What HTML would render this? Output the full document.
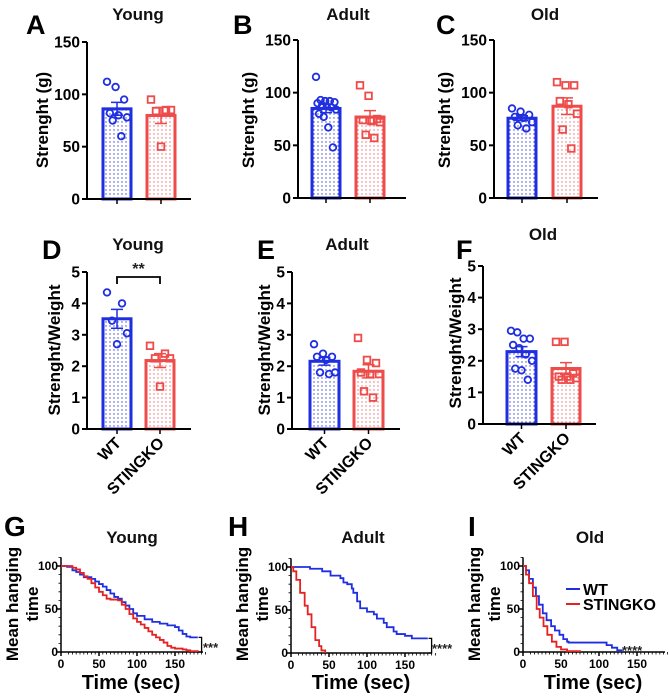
<!DOCTYPE html>
<html><head><meta charset="utf-8"><style>
html,body{margin:0;padding:0;background:#fff;}
svg{display:block;font-family:"Liberation Sans",Arial,sans-serif;font-weight:bold;}
</style></head><body>
<svg id="fig" width="669" height="696" viewBox="0 0 669 696" xmlns="http://www.w3.org/2000/svg">
<defs>
<pattern id="dotB" width="4" height="4" patternUnits="userSpaceOnUse"><rect width="4" height="4" fill="#fff"/><circle cx="2" cy="2" r="0.7" fill="#3a46d8"/></pattern>
<pattern id="dotR" width="4" height="4" patternUnits="userSpaceOnUse"><rect width="4" height="4" fill="#fff"/><circle cx="2" cy="2" r="0.7" fill="#ee6a6a"/></pattern>
</defs>
</svg>
<script>
// ---- bar panel data ----
const groups = ["WT", "STINGKO"];
const aWT = [112,107,95,82,80,78,75,60];
const aKO = [95,85,84,85,50];
const bWT = [115,93,92,92,91,90,88,87,86,84,80,77,67,48];
const bKO = [107,97,75,74,73,72,60,57];
const cWT = [85,82,79,77,76,72,69,66];
const cKO = [110,107,107,92,89,80,65,47];
const dWT = [4.35,4.0,3.45,3.05,2.7];
const dKO = [2.65,2.4,2.25,2.25,1.35];
const eWT = [2.7,2.4,2.3,2.3,2.2,1.8,1.8,1.75];
const eKO = [2.9,2.2,2.1,1.8,1.75,1.75,1.2,1.0];
const fWT = [2.95,2.9,2.7,2.7,2.5,2.4,2.2,2.0,1.75,1.7,1.4];
const fKO = [2.6,2.6,1.6,1.5,1.5,1.45,1.4,1.4];
const strengthTicks = [0,50,100,150];
const ratioTicks = [0,1,2,3,4,5];
// ---- survival data: [time, percent] steps ----
const gWT = [[0,100],[8,99],[15,95],[20,93],[25,90],[30,87],[40,85],[45,82],[50,79],[55,76],[60,72],[65,68],[70,64],[75,62],[80,58],[85,54],[90,50],[95,45],[100,42],[110,38],[120,35],[130,33],[140,31],[150,29],[155,25],[160,21],[165,18],[170,17],[180,17]];
const gKO = [[0,100],[10,100],[15,98],[20,96],[25,92],[30,88],[35,85],[40,80],[45,75],[50,70],[55,66],[60,62],[65,61],[75,60],[80,55],[85,50],[90,44],[95,39],[100,35],[105,32],[110,28],[115,24],[120,20],[125,17],[130,14],[135,11],[140,7],[145,5],[150,4],[160,3],[165,2],[170,1],[180,0]];
const hWT = [[0,100],[25,98],[41,95],[52,90],[65,87],[69,82],[74,80],[80,75],[82,70],[87,60],[91,52],[100,48],[109,45],[113,40],[122,35],[126,30],[135,25],[139,22],[150,20],[159,17],[180,17]];
const hKO = [[0,100],[3,95],[7,85],[12,70],[18,55],[22,45],[27,30],[32,15],[37,8],[40,3],[45,0]];
const iWT = [[0,100],[4,95],[8,85],[13,75],[17,65],[21,55],[26,45],[31,37],[37,30],[42,25],[48,20],[53,15],[58,12],[60,11],[105,11],[110,8],[117,5],[124,2],[130,0]];
const iKO = [[0,100],[4,90],[8,80],[13,65],[18,50],[22,40],[27,30],[32,20],[38,12],[44,6],[50,3],[58,1],[75,0]];
const timeTicks = [0,50,100,150];
const survTicks = [0,50,100];

const NS = "http://www.w3.org/2000/svg";
const svg = document.getElementById("fig");
function mk(tag, attrs, parent) {
  const e = document.createElementNS(NS, tag);
  for (const k in attrs) e.setAttribute(k, attrs[k]);
  (parent || svg).appendChild(e);
  return e;
}
function txt(s, attrs, parent) { const e = mk("text", attrs, parent); e.textContent = s; return e; }
function mean(a){return a.reduce((s,v)=>s+v,0)/a.length;}
function sem(a){const m=mean(a);const sd=Math.sqrt(a.reduce((s,v)=>s+(v-m)*(v-m),0)/(a.length-1));return sd/Math.sqrt(a.length);}

function barPanel(cfg) {
  const g = mk("g", {});
  
  
  const maxV = cfg.ticks[cfg.ticks.length-1];
  const yS = v => cfg.y0 - (cfg.y0 - cfg.yTop) * v / maxV;
  const L = txt(cfg.letter, {x: cfg.lx, y: cfg.ly, "font-size": 27, fill: "#000"}, g);
  
  
  const T = txt(cfg.title, {x: cfg.tx, y: cfg.ty, "font-size": 17, "text-anchor": "middle", fill: "#111"}, g);
  
  
  const series = [cfg.wt, cfg.ko];
  series.forEach((d, i) => {
    const col = i === 0 ? "#1f2fe0" : "#ee4b4b";
    const [x1, x2] = cfg.bars[i];
    const cx = (x1 + x2) / 2;
    const m = mean(d), s = sem(d);
    const b = mk("rect", {x: x1, y: yS(m), width: x2 - x1, height: cfg.y0 - yS(m), fill: i === 0 ? "url(#dotB)" : "url(#dotR)", stroke: col, "stroke-width": 3}, g);
    
    
    const eb = mk("path", {d: `M${cx},${yS(m-s)}V${yS(m+s)}M${cx-6},${yS(m+s)}H${cx+6}M${cx-6},${yS(m-s)}H${cx+6}`, stroke: col, "stroke-width": 1.5, fill: "none"}, g);
    
    
    const w = x2 - x1 - 8;
    d.forEach((v, j) => {
      const off = d.length > 1 ? ((j * 3) % d.length) / (d.length - 1) - 0.5 : 0;
      const px = cx + off * w;
      let p;
      if (i === 0) p = mk("circle", {cx: px, cy: yS(v), r: 3.3, fill: "none", stroke: col, "stroke-width": 1.8}, g);
      else p = mk("rect", {x: px - 3.3, y: yS(v) - 3.3, width: 6.6, height: 6.6, fill: "none", stroke: col, "stroke-width": 1.8}, g);
      
      
    });
    const tk = mk("line", {x1: cx, x2: cx, y1: cfg.y0, y2: cfg.y0 + 5, stroke: "#000", "stroke-width": 1.5}, g);
    
    
    if (cfg.xlabels) {
      const xl = txt(groups[i], {x: 0, y: 0, "font-size": 16, "text-anchor": "end", fill: "#000", transform: `translate(${cx+5},${cfg.y0+15}) rotate(-45)`}, g);
      
      
    }
  });
  const ax = mk("path", {d: `M${cfg.ax},${cfg.yTop}V${cfg.y0}H${cfg.xEnd}`, stroke: "#000", "stroke-width": 2, fill: "none"}, g);
  
  
  cfg.ticks.forEach(t => {
    const tl = mk("line", {x1: cfg.ax - 5, x2: cfg.ax, y1: yS(t), y2: yS(t), stroke: "#000", "stroke-width": 2}, g);
    
    
    const lb = txt(String(t), {x: cfg.ax - 7, y: yS(t) + 5.5, "font-size": 15.5, "text-anchor": "end", fill: "#000"}, g);
    
    
  });
  const yt = txt(cfg.ylabel, {x: 0, y: 0, "font-size": 17, "text-anchor": "middle", fill: "#000", transform: `translate(${cfg.ylx},${cfg.yly}) rotate(-90)`}, g);
  
  
  if (cfg.sig) {
    const [a, b] = cfg.bars;
    const c1 = (a[0]+a[1])/2, c2 = (b[0]+b[1])/2;
    const br = mk("path", {d: `M${c1},284V277H${c2}V284`, stroke: "#000", "stroke-width": 1.8, fill: "none"}, g);
    
    
    const st = txt("**", {x: (c1+c2)/2, y: 274, "font-size": 16, "text-anchor": "middle", fill: "#222"}, g);
    
    
  }
}

const SY = "Strenght (g)", RY = "Strenght/Weight";
barPanel({name:"panel-a", letter:"A", lx:26, ly:34, title:"Young", tx:138, ty:20, ax:87, y0:199, yTop:42, xEnd:191, bars:[[103,131],[147,175]], wt:aWT, ko:aKO, ticks:strengthTicks, ylabel:SY, ylx:48, yly:120});
barPanel({name:"panel-b", letter:"B", lx:233, ly:34, title:"Adult", tx:348, ty:20, ax:298, y0:198, yTop:40, xEnd:406, bars:[[312,340],[356,384]], wt:bWT, ko:bKO, ticks:strengthTicks, ylabel:SY, ylx:254, yly:120});
barPanel({name:"panel-c", letter:"C", lx:436, ly:34, title:"Old", tx:545, ty:20, ax:494, y0:198, yTop:40, xEnd:598, bars:[[508,536],[553,581]], wt:cWT, ko:cKO, ticks:strengthTicks, ylabel:SY, ylx:450, yly:120});
barPanel({name:"panel-d", letter:"D", lx:42, ly:259, title:"Young", tx:138, ty:250, ax:87, y0:429, yTop:272, xEnd:191, bars:[[103,131],[146,174]], wt:dWT, ko:dKO, ticks:ratioTicks, ylabel:RY, ylx:60, yly:350, xlabels:true, sig:true});
barPanel({name:"panel-e", letter:"E", lx:257, ly:259, title:"Adult", tx:347, ty:250, ax:292, y0:429, yTop:272, xEnd:400, bars:[[310,339],[354,383]], wt:eWT, ko:eKO, ticks:ratioTicks, ylabel:RY, ylx:270, yly:350, xlabels:true});
barPanel({name:"panel-f", letter:"F", lx:456, ly:259, title:"Old", tx:543, ty:240, ax:483, y0:424, yTop:266, xEnd:596, bars:[[507,536],[552,580]], wt:fWT, ko:fKO, ticks:ratioTicks, ylabel:RY, ylx:461, yly:343, xlabels:true});

function survPanel(cfg) {
  const g = mk("g", {});
  
  
  const xS = t => cfg.ax + t * cfg.pxs;
  const yS = p => cfg.y0 - (cfg.y0 - cfg.y100) * p / 100;
  const L = txt(cfg.letter, {x: cfg.lx, y: 536, "font-size": 28, fill: "#000"}, g);
  
  
  const T = txt(cfg.title, {x: cfg.tx, y: 543, "font-size": 17, "text-anchor": "middle", fill: "#111"}, g);
  
  
  const ax = mk("path", {d: `M${cfg.ax},${yS(110)}V${cfg.y0}H${cfg.xEnd}`, stroke: "#000", "stroke-width": 1.5, fill: "none"}, g);
  
  
  let minor = "";
  for (let t = 10; t <= 190; t += 5) minor += `M${xS(t)},${cfg.y0}v2.5`;
  for (let p = 10; p <= 110; p += 10) minor += `M${cfg.ax},${yS(p)}h-2.5`;
  const mt = mk("path", {d: minor, stroke: "#000", "stroke-width": 0.8, fill: "none"}, g);
  
  
  timeTicks.forEach(t => {
    const tl = mk("line", {x1: xS(t), x2: xS(t), y1: cfg.y0, y2: cfg.y0 + 4, stroke: "#000", "stroke-width": 1.5}, g);
    
    
    const lb = txt(String(t), {x: xS(t), y: cfg.y0 + 16, "font-size": 12, "text-anchor": "middle", fill: "#000"}, g);
    
    
  });
  survTicks.forEach(p => {
    const tl = mk("line", {x1: cfg.ax - 4, x2: cfg.ax, y1: yS(p), y2: yS(p), stroke: "#000", "stroke-width": 1.5}, g);
    
    
    const lb = txt(String(p), {x: cfg.ax - 3, y: yS(p) + 4, "font-size": 12, "text-anchor": "end", fill: "#000"}, g);
    
    
  });
  [[cfg.wt, "#1f2fe0", "curve-wt"], [cfg.ko, "#e52222", "curve-stingko"]].forEach(([d, col, nm]) => {
    let s = `M${xS(d[0][0])},${yS(d[0][1])}`;
    for (let k = 1; k < d.length; k++) s += `H${xS(d[k][0])}V${yS(d[k][1])}`;
    const p = mk("path", {d: s, stroke: col, "stroke-width": 1.8, fill: "none"}, g);
    
    
  });
  const xt = txt("Time (sec)", {x: cfg.ax + 70, y: 689, "font-size": 20, "text-anchor": "middle", fill: "#000"}, g);
  
  
  const y1 = txt("Mean hanging", {x: 0, y: 0, "font-size": 17, "text-anchor": "middle", fill: "#000", transform: `translate(${cfg.ax-43},604) rotate(-90)`}, g);
  
  
  const y2 = txt("time", {x: 0, y: 0, "font-size": 17, "text-anchor": "middle", fill: "#000", transform: `translate(${cfg.ax-23},604) rotate(-90)`}, g);
  
  
  if (cfg.bracket) {
    const w = cfg.wt[cfg.wt.length-1][1], k = cfg.ko[cfg.ko.length-1][1];
    const bx = xS(185);
    const br = mk("path", {d: `M${bx-3},${yS(w)}H${bx}V${yS(k)}H${bx-3}`, stroke: "#000", "stroke-width": 1.3, fill: "none"}, g);
    
    
  }
  const st = txt(cfg.sig, {x: cfg.sx, y: cfg.sy, "font-size": 13, fill: "#222"}, g);
  
  
  return g;
}
survPanel({name:"panel-g", letter:"G", lx:4, title:"Young", tx:132, ax:61, y0:652, y100:566, pxs:0.76, xEnd:203, wt:gWT, ko:gKO, bracket:true, sig:"***", sx:203, sy:652});
survPanel({name:"panel-h", letter:"H", lx:228, title:"Adult", tx:363, ax:291, y0:653, y100:567, pxs:0.76, xEnd:431, wt:hWT, ko:hKO, bracket:true, sig:"****", sx:432, sy:653});
const gi = survPanel({name:"panel-i", letter:"I", lx:468, title:"Old", tx:590, ax:523, y0:652, y100:566, pxs:0.76, xEnd:665, wt:iWT, ko:iKO, bracket:false, sig:"****", sx:622, sy:655});
const lg = mk("g", {}, gi);


[["WT", "#1f2fe0", 589], ["STINGKO", "#e52222", 604]].forEach(([n, c, y]) => {
  const ln = mk("line", {x1: 566, x2: 580, y1: y, y2: y, stroke: c, "stroke-width": 2}, lg);
  
  
  const t = txt(n, {x: 583, y: y + 6, "font-size": 16, fill: "#000"}, lg);
  
  
});
</script>
</body></html>
